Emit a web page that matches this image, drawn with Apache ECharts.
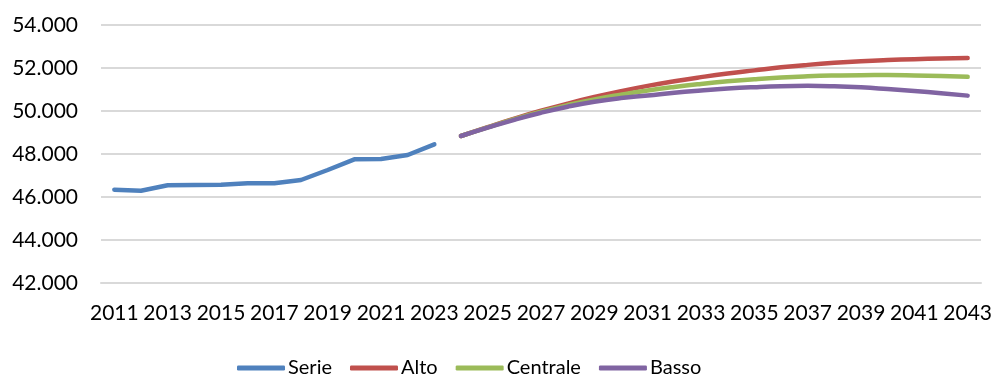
<!DOCTYPE html>
<html>
<head>
<meta charset="utf-8">
<script src="https://cdn.jsdelivr.net/npm/echarts@6/dist/echarts.min.js"></script>
<style>html,body{margin:0;padding:0;background:#fff}#c{width:995px;height:374px}</style>
</head>
<body>
<div id="c"></div>
<script>
const years = [];
for (let y = 2011; y <= 2043; y++) years.push(String(y));
const serie = [46340, 46293, 46544, 46558, 46572, 46637, 46637, 46791, 47256, 47754, 47768, 47954, 48451];
const alto = [48837, 49250, 49645, 50010, 50345, 50650, 50925, 51170, 51385, 51575, 51745, 51890, 52030, 52145, 52240, 52315, 52370, 52410, 52440, 52460];
const centrale = [48837, 49240, 49620, 49965, 50275, 50540, 50760, 50955, 51120, 51260, 51380, 51480, 51560, 51615, 51650, 51668, 51670, 51655, 51628, 51590];
const basso = [48837, 49225, 49590, 49920, 50200, 50430, 50600, 50720, 50850, 50955, 51045, 51110, 51155, 51170, 51150, 51100, 51020, 50930, 50830, 50715];

const pad = n => new Array(n).fill(null);
const serieData = serie.concat(pad(years.length - serie.length));
const proj = arr => pad(years.length - arr.length).concat(arr);

const FONT = 'Lato';
const chart = echarts.init(document.getElementById('c'));
const lineSeries = (name, data, color, smooth) => ({
  name, type: 'line', data, smooth, showSymbol: false, symbol: 'none',
  connectNulls: false,
  lineStyle: { color, width: 4.5, cap: 'round', join: 'round' },
  itemStyle: { color },
  emphasis: { disabled: true }
});
chart.setOption({
  animation: false,
  textStyle: { fontFamily: FONT },
  grid: { left: 101, right: 13, top: 25, bottom: 91, containLabel: false },
  legend: {
    top: 353, left: 232, itemWidth: 48, itemHeight: 5, itemGap: 18,
    icon: 'roundRect',
    textStyle: { fontFamily: FONT, fontSize: 20, color: '#000', padding: [0, 0, 0, -2] },
    data: ['Serie', 'Alto', 'Centrale', 'Basso']
  },
  xAxis: {
    type: 'category', data: years, boundaryGap: true,
    axisLine: { show: true, lineStyle: { color: '#d9d9d9', width: 2 } },
    axisTick: { show: false },
    axisLabel: { interval: 1, fontFamily: FONT, fontSize: 21, color: '#000', margin: 20 }
  },
  yAxis: {
    type: 'value', min: 42000, max: 54000, interval: 2000,
    axisLine: { show: false }, axisTick: { show: false },
    splitLine: { lineStyle: { color: '#d9d9d9', width: 2 } },
    axisLabel: {
      fontFamily: FONT, fontSize: 21, color: '#000', margin: 23,
      formatter: v => (v / 1000).toFixed(3)
    }
  },
  series: [
    lineSeries('Serie', serieData, '#4F81BD', false),
    lineSeries('Alto', proj(alto), '#C0504D', true),
    lineSeries('Centrale', proj(centrale), '#9BBB59', true),
    lineSeries('Basso', proj(basso), '#8064A2', true)
  ]
});
</script>
</body>
</html>
